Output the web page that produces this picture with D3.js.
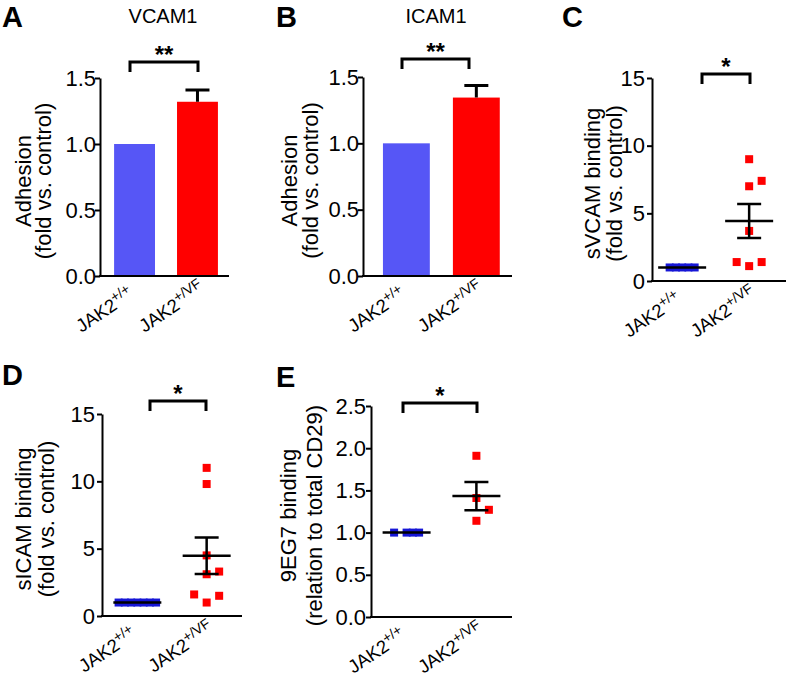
<!DOCTYPE html>
<html><head><meta charset="utf-8">
<script src="https://cdn.jsdelivr.net/npm/d3@7"></script>
<style>body{margin:0;background:#fff} text{font-family:Arial,"Liberation Sans",sans-serif;fill:#000}</style>
</head><body>
<svg id="c" width="788" height="683"></svg>
<script>
// ---------- data ----------
const groupBase = ["JAK2", "JAK2"];
const groupSup = ["+/+", "+/VF"];
const groupKeys = ["wt", "vf"];
const vcamMeans = [1.0, 1.32];
const vcamSem = [0, 0.09];
const icamMeans = [1.0, 1.345];
const icamSem = [0, 0.09];
const svcamWT = [1, 1, 1, 1, 1];
const svcamVF = [9.0, 7.0, 7.4, 3.7, 1.4, 1.1, 1.4];
const sicamWT = [1, 1, 1, 1, 1, 1, 1];
const sicamVF = [11.0, 9.8, 4.5, 3.3, 3.1, 1.6, 1.5, 1.0];
const egWT = [1, 1, 1, 1];
const egVF = [1.91, 1.41, 1.27, 1.14];
const ticksAdh = [0, 0.5, 1.0, 1.5];
const ticksBind = [0, 5, 10, 15];
const ticksEG = [0, 0.5, 1.0, 1.5, 2.0, 2.5];

// ---------- styles ----------
const BLUE_BAR = "#5656f6", RED = "#ff0000", BLUE_PT = "#1616d6";
const FONT = "Arial, 'Liberation Sans', sans-serif";
const svg = d3.select("#c");

function yAxis(g, y, ticks, fmt, x0, pad) {
  const ax = g.append("g").attr("transform", `translate(${x0},0)`)
    .call(d3.axisLeft(y).tickValues(ticks).tickFormat(d3.format(fmt)).tickSize(5).tickSizeOuter(0).tickPadding(pad));
  ax.select(".domain").attr("stroke", "#000").attr("stroke-width", 2);
  ax.selectAll(".tick line").attr("stroke", "#000").attr("stroke-width", 2);
  ax.selectAll(".tick text").style("font-size", "22px").attr("fill", "#000").style("font-family", FONT);
}
function xAxisLine(g, x0, x1, yb) {
  g.append("line").attr("x1", x0 - 1).attr("x2", x1).attr("y1", yb).attr("y2", yb)
    .attr("stroke", "#000").attr("stroke-width", 2);
}
function xLabels(g, xs, yb) {
  groupKeys.forEach((k, i) => {
    const t = g.append("text")
      .attr("transform", `translate(${xs(k) - 53},${yb + 57}) rotate(-34)`)
      .attr("text-anchor", "start").style("font-size", "18.5px");
    t.append("tspan").text(groupBase[i]);
    t.append("tspan").attr("dy", -7).style("font-size", "14px").text(groupSup[i]);
  });
}
function yLabel(g, lines, xs, cy) {
  lines.forEach((s, i) => {
    g.append("text").attr("transform", `translate(${xs[i]},${cy}) rotate(-90)`)
      .attr("text-anchor", "middle").style("font-size", "22px").text(s);
  });
}
function bracket(g, x1, x2, y, stars) {
  g.append("path").attr("d", `M${x1},${y + 10}V${y}H${x2}V${y + 10}`)
    .attr("fill", "none").attr("stroke", "#000").attr("stroke-width", 3);
  g.append("text").attr("x", (x1 + x2) / 2).attr("y", y + 1).attr("text-anchor", "middle")
    .style("font-size", "24px").attr("font-weight", "bold").text(stars);
}
function letter(g, s, x, y) {
  g.append("text").attr("x", x).attr("y", y).style("font-size", "29px").attr("font-weight", "bold").text(s);
}

function swarm(vals, y, s, sizeY) {
  const idx = vals.map((v, i) => i).sort((a, b) => vals[a] - vals[b]);
  const placed = [], off = new Array(vals.length);
  const full = [0, s, -s], half = [s / 2, -s / 2, 1.5 * s, -1.5 * s];
  for (const i of idx) {
    const yy = y(vals[i]);
    const ok = (dx, th) => placed.every(p => Math.abs(p.y - yy) >= sizeY || Math.abs(p.dx - dx) >= th - 1e-6);
    let c = full.find(dx => ok(dx, s));
    if (c === undefined) c = half.find(dx => ok(dx, s / 2));
    if (c === undefined) c = 0;
    placed.push({ y: yy, dx: c }); off[i] = c;
  }
  return off;
}

function barPanel(cfg) {
  const g = svg.append("g");
  const y = d3.scaleLinear().domain([0, d3.max(cfg.ticks)]).range([cfg.yb, cfg.yt]);
  const x = d3.scaleBand().domain(groupKeys).range([cfg.x0, cfg.x1])
    .paddingInner(cfg.pi).paddingOuter(cfg.po).align(cfg.al);
  const colors = [BLUE_BAR, RED];
  g.selectAll("rect.bar").data(groupKeys).join("rect")
    .attr("x", d => x(d)).attr("width", x.bandwidth())
    .attr("y", (d, i) => y(cfg.means[i])).attr("height", (d, i) => y(0) - y(cfg.means[i]))
    .attr("fill", (d, i) => colors[i]);
  groupKeys.forEach((k, i) => {
    if (cfg.sem[i] > 0) {
      const cx = x(k) + x.bandwidth() / 2;
      g.append("path").attr("d",
        `M${cx},${y(cfg.means[i])}V${y(cfg.means[i] + cfg.sem[i])}M${cx - 12},${y(cfg.means[i] + cfg.sem[i])}H${cx + 12}`)
        .attr("stroke", "#000").attr("stroke-width", 3).attr("fill", "none");
    }
  });
  xAxisLine(g, cfg.x0, cfg.x1, cfg.yb);
  yAxis(g, y, cfg.ticks, ".1f", cfg.x0, cfg.tp);
  const xc = k => x(k) + x.bandwidth() / 2;
  xLabels(g, xc, cfg.yb);
  yLabel(g, cfg.label, cfg.labelX, (cfg.yt + cfg.yb) / 2 + 4);
  g.append("text").attr("x", cfg.titleX).attr("y", 23).attr("text-anchor", "middle").style("font-size", "20px").text(cfg.title);
  bracket(g, cfg.b1, cfg.b2, cfg.by, cfg.stars);
  letter(g, cfg.letter, cfg.lx, cfg.ly);
}

function scatterPanel(cfg) {
  const g = svg.append("g");
  const y = d3.scaleLinear().domain([0, d3.max(cfg.ticks)]).range([cfg.yb, cfg.yt]);
  const x = d3.scalePoint().domain(groupKeys).range([cfg.x0, cfg.x1]).padding(cfg.pad).align(cfg.al);
  const sets = [cfg.wt, cfg.vf], colors = [BLUE_PT, RED];
  const S = 8;
  sets.forEach((vals, gi) => {
    const off = swarm(vals, y, 12.5, 12);
    const cx = x(groupKeys[gi]);
    g.append("g").selectAll("rect").data(vals).join("rect")
      .attr("x", (d, i) => cx + off[i] - S / 2).attr("y", d => y(d) - S / 2)
      .attr("width", S).attr("height", S).attr("fill", colors[gi]);
  });
  sets.forEach((vals, gi) => {
    const cx = x(groupKeys[gi]);
    const m = d3.mean(vals), sem = d3.deviation(vals) / Math.sqrt(vals.length) || 0;
    let d = `M${cx - 24},${y(m)}H${cx + 24}`;
    if (sem > 0) d += `M${cx},${y(m - sem)}V${y(m + sem)}M${cx - 12},${y(m - sem)}H${cx + 12}M${cx - 12},${y(m + sem)}H${cx + 12}`;
    g.append("path").attr("d", d).attr("stroke", "#000").attr("stroke-width", 2.5).attr("fill", "none");
  });
  xAxisLine(g, cfg.x0, cfg.x1, cfg.yb);
  yAxis(g, y, cfg.ticks, cfg.fmt, cfg.x0, cfg.tp);
  xLabels(g, k => x(k), cfg.yb);
  yLabel(g, cfg.label, cfg.labelX, (cfg.yt + cfg.yb) / 2 + 4);
  bracket(g, cfg.b1, cfg.b2, cfg.by, cfg.stars);
  letter(g, cfg.letter, cfg.lx, cfg.ly);
}

barPanel({ means: vcamMeans, sem: vcamSem, ticks: ticksAdh, x0: 100, x1: 229, yt: 78, yb: 276, tp: -1,
  pi: 0.35, po: 0.2, al: 0.56, label: ["Adhesion", "(fold vs. control)"], labelX: [31, 51],
  title: "VCAM1", titleX: 163, b1: 130, b2: 198, by: 62, stars: "**", letter: "A", lx: 2, ly: 26.5 });
barPanel({ means: icamMeans, sem: icamSem, ticks: ticksAdh, x0: 363, x1: 512, yt: 77, yb: 276, tp: -1,
  pi: 0.33, po: 0.23, al: 0.62, label: ["Adhesion", "(fold vs. control)"], labelX: [297, 318],
  title: "ICAM1", titleX: 436, b1: 402, b2: 469, by: 59, stars: "**", letter: "B", lx: 276, ly: 26.5 });
scatterPanel({ wt: svcamWT, vf: svcamVF, ticks: ticksBind, fmt: "d", x0: 652, x1: 786, yt: 78, yb: 281, tp: 2,
  pad: 0.5, al: 0.45, label: ["sVCAM binding", "(fold vs. control)"], labelX: [600, 622],
  b1: 702, b2: 750, by: 74, stars: "*", letter: "C", lx: 562, ly: 26.5 });
scatterPanel({ wt: sicamWT, vf: sicamVF, ticks: ticksBind, fmt: "d", x0: 102, x1: 242, yt: 414, yb: 616, tp: 2,
  pad: 0.51, al: 0.5, label: ["sICAM binding", "(fold vs. control)"], labelX: [31, 54],
  b1: 150, b2: 206, by: 401, stars: "*", letter: "D", lx: 2, ly: 385 });
scatterPanel({ wt: egWT, vf: egVF, ticks: ticksEG, fmt: ".1f", x0: 371, x1: 512, yt: 406, yb: 617, tp: 0,
  pad: 0.51, al: 0.5, label: ["9EG7 binding", "(relation to total CD29)"], labelX: [296, 322],
  b1: 403, b2: 477, by: 403, stars: "*", letter: "E", lx: 276, ly: 387 });
</script>
</body></html>
